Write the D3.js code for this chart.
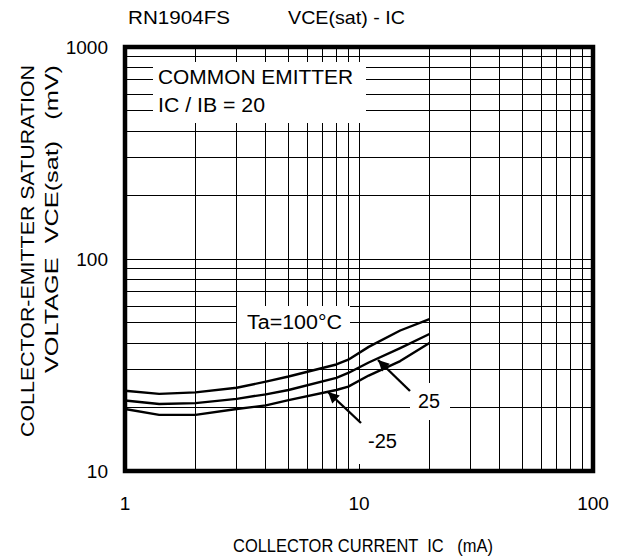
<!DOCTYPE html>
<html>
<head>
<meta charset="utf-8">
<script src="https://cdn.jsdelivr.net/npm/d3@7"></script>
<style>
  body { margin: 0; background: #fff; }
  svg { display: block; font-family: Arial, "Liberation Sans", sans-serif; }
  text { white-space: pre; }
</style>
</head>
<body>
<svg id="chart"></svg>
<script>
// collector current (mA) and VCE(sat) (mV) per ambient temperature
const currentMA = [1, 1.4, 2, 3, 4, 5, 8, 9, 11, 15, 20];
const vceTa100 = [23.9, 23.1, 23.5, 24.7, 26.4, 27.9, 31.8, 33.5, 38.5, 46, 52];
const vceTa25 = [21.5, 20.7, 20.9, 21.9, 23.0, 24.1, 27.5, 29.0, 32.5, 38, 44.3];
const vceTaM25 = [19.6, 18.4, 18.4, 19.6, 20.4, 21.6, 24.1, 25.0, 28.2, 33.0, 40.2];

const xTicks = [1, 10, 100];
const yTicks = [10, 100, 1000];

const W = 621, H = 560;
const mLeft = 125, mRight = 593, mTop = 47, mBottom = 471;

const svg = d3.select('#chart').attr('width', W).attr('height', H);

const x = d3.scaleLog().domain([1, 100]).range([mLeft, mRight]);
const y = d3.scaleLog().domain([10, 1000]).range([mBottom, mTop]);

// grid lines (every 1..9 of each decade)
const xGrid = [];
for (let d = 1; d < 100; d *= 10) for (let k = 2; k <= 10; k++) if (d * k < 100) xGrid.push(d * k);
const yGrid = [];
for (let d = 10; d < 1000; d *= 10) for (let k = 2; k <= 10; k++) if (d * k < 1000) yGrid.push(d * k);

const grid = svg.append('g').attr('stroke', '#000').attr('stroke-width', 1).attr('shape-rendering', 'crispEdges');
grid.selectAll('line.v').data(xGrid).join('line')
  .attr('class', 'v')
  .attr('x1', d => x(d)).attr('x2', d => x(d))
  .attr('y1', mTop).attr('y2', mBottom);
grid.selectAll('line.h').data(yGrid).join('line')
  .attr('class', 'h')
  .attr('x1', mLeft).attr('x2', mRight)
  .attr('y1', d => y(d)).attr('y2', d => y(d));

// white label boxes that cut the grid
const boxes = [
  [153, 62, 213, 61],
  [237, 306, 113, 36],
  [410, 383, 40, 37],
  [355, 421, 47, 43]
];
svg.append('g').selectAll('rect').data(boxes).join('rect')
  .attr('x', d => d[0]).attr('y', d => d[1])
  .attr('width', d => d[2]).attr('height', d => d[3])
  .attr('fill', '#fff');

// curves
const line = d3.line().x((d, i) => x(currentMA[i])).y(d => y(d));
svg.append('g').selectAll('path').data([vceTa100, vceTa25, vceTaM25]).join('path')
  .attr('d', line)
  .attr('fill', 'none')
  .attr('stroke', '#000')
  .attr('stroke-width', 2.4)
  .attr('stroke-linejoin', 'round');

// frame
svg.append('rect')
  .attr('x', mLeft).attr('y', mTop)
  .attr('width', mRight - mLeft).attr('height', mBottom - mTop)
  .attr('fill', 'none').attr('stroke', '#000').attr('stroke-width', 4.5);

// arrows
svg.append('defs').append('marker')
  .attr('id', 'head')
  .attr('viewBox', '0 0 10 10')
  .attr('refX', 10).attr('refY', 5)
  .attr('markerWidth', 14).attr('markerHeight', 11)
  .attr('markerUnits', 'userSpaceOnUse')
  .attr('orient', 'auto')
  .append('path').attr('d', 'M0,0L10,5L0,10Z').attr('fill', '#000');

const arrows = [
  [410, 391, 378, 360],
  [361, 423, 328, 392]
];
svg.append('g').selectAll('line').data(arrows).join('line')
  .attr('x1', d => d[0]).attr('y1', d => d[1])
  .attr('x2', d => d[2]).attr('y2', d => d[3])
  .attr('stroke', '#000').attr('stroke-width', 2.4)
  .attr('marker-end', 'url(#head)');

// tick labels
svg.append('g').selectAll('text').data(xTicks).join('text')
  .attr('x', d => x(d)).attr('y', 510)
  .attr('text-anchor', 'middle').attr('font-size', 19)
  .text(d => d);
svg.append('g').selectAll('text').data(yTicks).join('text')
  .attr('x', 108).attr('y', d => y(d) + 7)
  .attr('text-anchor', 'end').attr('font-size', 19)
  .text(d => d);

// titles and annotations
const label = (t, tx, ty, len, size) => svg.append('text')
  .attr('x', tx).attr('y', ty)
  .attr('font-size', size || 19)
  .attr('textLength', len).attr('lengthAdjust', 'spacingAndGlyphs')
  .text(t);

label('RN1904FS', 128, 24, 102);
label('VCE(sat) - IC', 288, 24, 117);
label('COMMON EMITTER', 158, 84, 195, 20);
label('IC / IB = 20', 158, 112, 107, 20);
label('Ta=100°C', 247, 329, 95, 20);
label('25', 418, 408, 22, 20);
label('-25', 368, 448, 29, 20);
label('COLLECTOR CURRENT  IC   (mA)', 233, 552, 260, 18);

svg.append('text')
  .attr('transform', 'translate(34,437) rotate(-90)')
  .attr('font-size', 18)
  .attr('textLength', 372).attr('lengthAdjust', 'spacingAndGlyphs')
  .text('COLLECTOR-EMITTER SATURATION');
svg.append('text')
  .attr('transform', 'translate(58,373) rotate(-90)')
  .attr('font-size', 18)
  .attr('textLength', 308).attr('lengthAdjust', 'spacingAndGlyphs')
  .text('VOLTAGE  VCE(sat)   (mV)');
</script>
</body>
</html>
